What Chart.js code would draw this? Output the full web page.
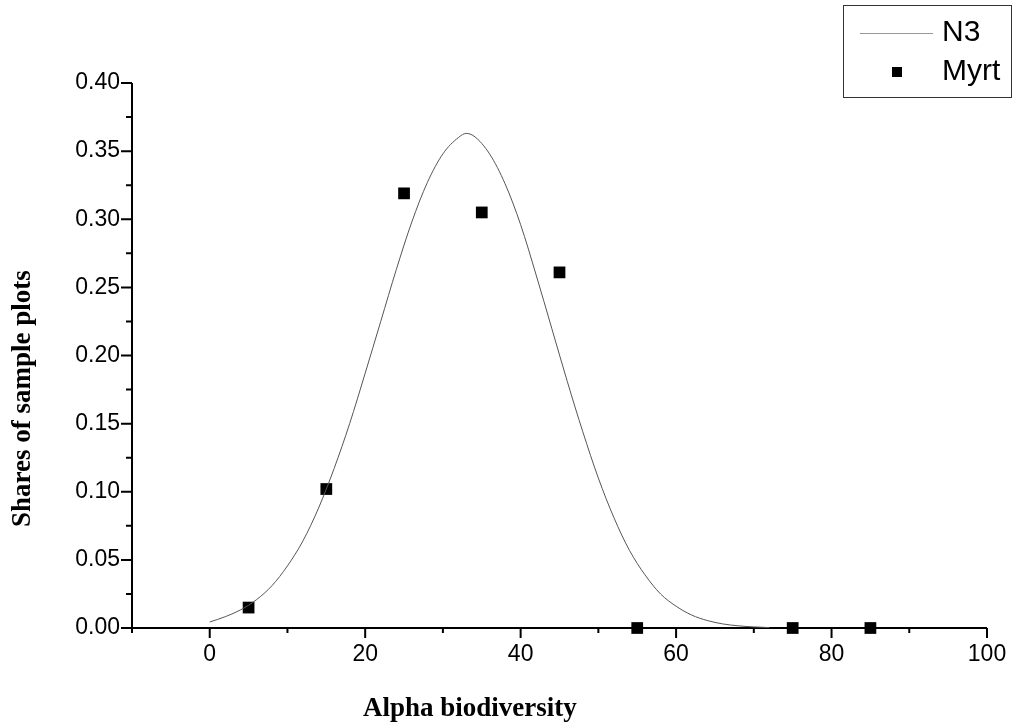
<!DOCTYPE html>
<html>
<head>
<meta charset="utf-8">
<script src="https://cdn.jsdelivr.net/npm/chart.js@4/dist/chart.umd.min.js"></script>
<style>
  html, body { margin: 0; padding: 0; background: #fff; }
  #wrap { width: 1014px; height: 724px; position: relative; }
</style>
</head>
<body>
<div id="wrap"><canvas id="chartN3"></canvas></div>
<script>
// fitted curve N3
const curveX = [0, 2, 4, 6, 8, 10, 12, 14, 16, 18, 20, 22, 24, 26, 28, 30, 32, 33, 34, 36, 38, 40,
                42, 44, 46, 48, 50, 52, 54, 56, 58, 60, 62, 64, 66, 68, 70, 72];
const curveY = [0.0044, 0.0083, 0.0134, 0.0207, 0.031, 0.0456, 0.064, 0.088, 0.117, 0.150, 0.187,
                0.225, 0.263, 0.298, 0.327, 0.348, 0.360, 0.363, 0.361, 0.348, 0.326, 0.296,
                0.259, 0.220, 0.181, 0.144, 0.110, 0.081, 0.057, 0.039, 0.025, 0.016, 0.0095,
                0.0055, 0.003, 0.0016, 0.0008, 0.0003];

// observed shares (Myrt)
const myrtX = [5, 15, 25, 35, 45, 55, 75, 85];
const myrtY = [0.015, 0.102, 0.319, 0.305, 0.261, 0, 0, 0];

const xLabels = [0, 20, 40, 60, 80, 100];
const yLabels = [0, 0.05, 0.10, 0.15, 0.20, 0.25, 0.30, 0.35, 0.40];

const seriesNames = ['N3', 'Myrt'];
const xTitle = 'Alpha biodiversity';
const yTitle = 'Shares of sample plots';

const isXMajor = v => xLabels.some(l => Math.abs(l - v) < 1e-6);
const isYMajor = v => yLabels.some(l => Math.abs(l - v) < 1e-6);

Chart.defaults.font.family = 'Liberation Sans';
Chart.defaults.color = '#000';

const axesPlugin = {
    id: 'originAxes',
    beforeDatasetsDraw(chart) {
        const { ctx, chartArea: a, scales: { x, y } } = chart;
        ctx.save();
        ctx.strokeStyle = '#000';
        ctx.lineWidth = 2;
        ctx.beginPath();
        ctx.moveTo(a.left, a.top);
        ctx.lineTo(a.left, a.bottom);
        ctx.lineTo(a.right, a.bottom);
        x.ticks.forEach(t => {
            const px = x.getPixelForValue(t.value);
            ctx.moveTo(px, a.bottom);
            ctx.lineTo(px, a.bottom + (isXMajor(t.value) ? 10 : 5));
        });
        y.ticks.forEach(t => {
            const py = y.getPixelForValue(t.value);
            ctx.moveTo(a.left, py);
            ctx.lineTo(a.left - (isYMajor(t.value) ? 11 : 6), py);
        });
        ctx.stroke();

        // axis titles
        ctx.fillStyle = '#000';
        ctx.font = 'bold 27px "Liberation Serif"';
        ctx.textAlign = 'left';
        ctx.textBaseline = 'alphabetic';
        ctx.fillText(xTitle, 363, 716);
        ctx.translate(30, 527);
        ctx.rotate(-Math.PI / 2);
        ctx.fillText(yTitle, 0, 0);
        ctx.restore();
    },
    afterDraw(chart) {
        const { ctx } = chart;
        const ds = chart.data.datasets;
        ctx.save();
        ctx.fillStyle = '#fff';
        ctx.fillRect(843, 5, 169, 92);
        ctx.strokeStyle = '#333';
        ctx.lineWidth = 1;
        ctx.strokeRect(843.5, 5.5, 168, 92);

        ctx.strokeStyle = '#999';
        ctx.beginPath();
        ctx.moveTo(860, 33.5);
        ctx.lineTo(933, 33.5);
        ctx.stroke();

        ctx.fillStyle = ds[1].backgroundColor;
        ctx.fillRect(892, 67, 10, 10);

        ctx.fillStyle = '#000';
        ctx.font = '30px "Liberation Sans"';
        ctx.textAlign = 'left';
        ctx.textBaseline = 'alphabetic';
        ctx.fillText(ds[0].label, 942, 41);
        ctx.fillText(ds[1].label, 942, 80);
        ctx.restore();
    }
};

new Chart(document.getElementById('chartN3'), {
    type: 'scatter',
    data: {
        datasets: [
            {
                label: seriesNames[0],
                type: 'line',
                data: curveX.map((v, i) => ({ x: v, y: curveY[i] })),
                borderColor: '#555',
                borderWidth: 1,
                pointRadius: 0,
                fill: false,
                cubicInterpolationMode: 'monotone'
            },
            {
                label: seriesNames[1],
                data: myrtX.map((v, i) => ({ x: v, y: myrtY[i] })),
                backgroundColor: '#000',
                borderWidth: 0,
                pointStyle: 'rect',
                pointRadius: 8.3,
                clip: false
            }
        ]
    },
    options: {
        responsive: true,
        maintainAspectRatio: false,
        animation: false,
        layout: { padding: { top: 83, right: 27, left: 0, bottom: 0 } },
        plugins: {
            legend: { display: false },
            tooltip: { enabled: false }
        },
        scales: {
            x: {
                type: 'linear',
                min: -10,
                max: 100,
                grid: { display: false },
                border: { display: false },
                afterFit: s => { s.height = 96; },
                ticks: {
                    stepSize: 10,
                    autoSkip: false,
                    maxRotation: 0,
                    padding: 5,
                    font: { size: 23 },
                    callback: v => isXMajor(v) ? String(v) : ''
                }
            },
            y: {
                min: 0,
                max: 0.4,
                grid: { display: false },
                border: { display: false },
                afterFit: s => { s.width = 132; },
                ticks: {
                    stepSize: 0.025,
                    autoSkip: false,
                    padding: 4,
                    font: { size: 23 },
                    callback: v => isYMajor(v) ? v.toFixed(2) : ''
                }
            }
        }
    },
    plugins: [axesPlugin]
});
</script>
</body>
</html>
